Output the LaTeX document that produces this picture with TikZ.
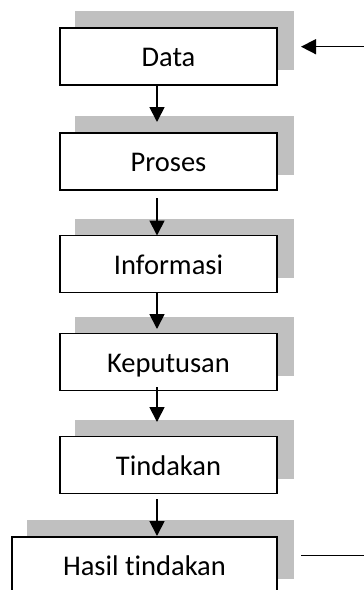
\documentclass[tikz,border=0pt]{standalone}
\usepackage{fontspec}
\setmainfont{Carlito}[Ligatures=NoCommon]
\usetikzlibrary{arrows.meta,backgrounds}
\definecolor{shadowgray}{HTML}{C0C0C0}
\begin{document}
\begin{tikzpicture}[x=1pt,y=-1pt,
  box/.style={draw=black,line width=1.3pt,fill=white,rectangle,inner sep=0pt,outer sep=0pt,
    minimum width=217pt,minimum height=57pt,text height=20pt,text depth=0pt,
    font=\fontsize{28.5}{34}\selectfont},
  shadowfill/.style={fill=shadowgray,draw=none},
  arr/.style={line width=1.8pt,-{Triangle[width=15pt,length=15pt]}},
  plainline/.style={line width=1.5pt},
]
\useasboundingbox (0,0) rectangle (364,590);
\clip (0,0) rectangle (364,590);
\node[box] (data) at (168.5,56.5) {Data};
\node[box] (proses) at (168.5,161.5) {Proses};
\node[box] (informasi) at (168.5,264) {Informasi};
\node[box] (keputusan) at (168.5,362) {Keputusan};
\node[box] (tindakan) at (168.5,465) {Tindakan};
\node[box,minimum width=265pt] (hasil) at (144.5,565.5) {Hasil tindakan};
\begin{scope}[on background layer]
  \foreach \n in {data,proses,informasi,keputusan,tindakan,hasil}
    \fill[shadowfill] ([xshift=15pt,yshift=17pt]\n.north west) rectangle ([xshift=17pt,yshift=15pt]\n.south east);
\end{scope}
\coordinate (ax) at (157,0);
\draw[arr,shorten >=11pt] (data.south -| ax) -- (proses.north -| ax);
\draw[arr,shorten <=8pt] (proses.south -| ax) -- (informasi.north -| ax);
\draw[arr,shorten >=4.5pt] (informasi.south -| ax) -- (keputusan.north -| ax);
\draw[arr,shorten <=-3.5pt,shorten >=14.5pt] (keputusan.south -| ax) -- (tindakan.north -| ax);
\draw[arr,shorten <=5.5pt,shorten >=1pt] (tindakan.south -| ax) -- (hasil.north -| ax);
\coordinate (inS) at (364,46.7);
\draw[arr,line width=1.5pt,shorten >=24pt] (inS) -- (inS -| data.east);
\coordinate (outE) at (364,555.7);
\draw[plainline,shorten <=24pt] (outE -| hasil.east) -- (outE);
\end{tikzpicture}
\end{document}
